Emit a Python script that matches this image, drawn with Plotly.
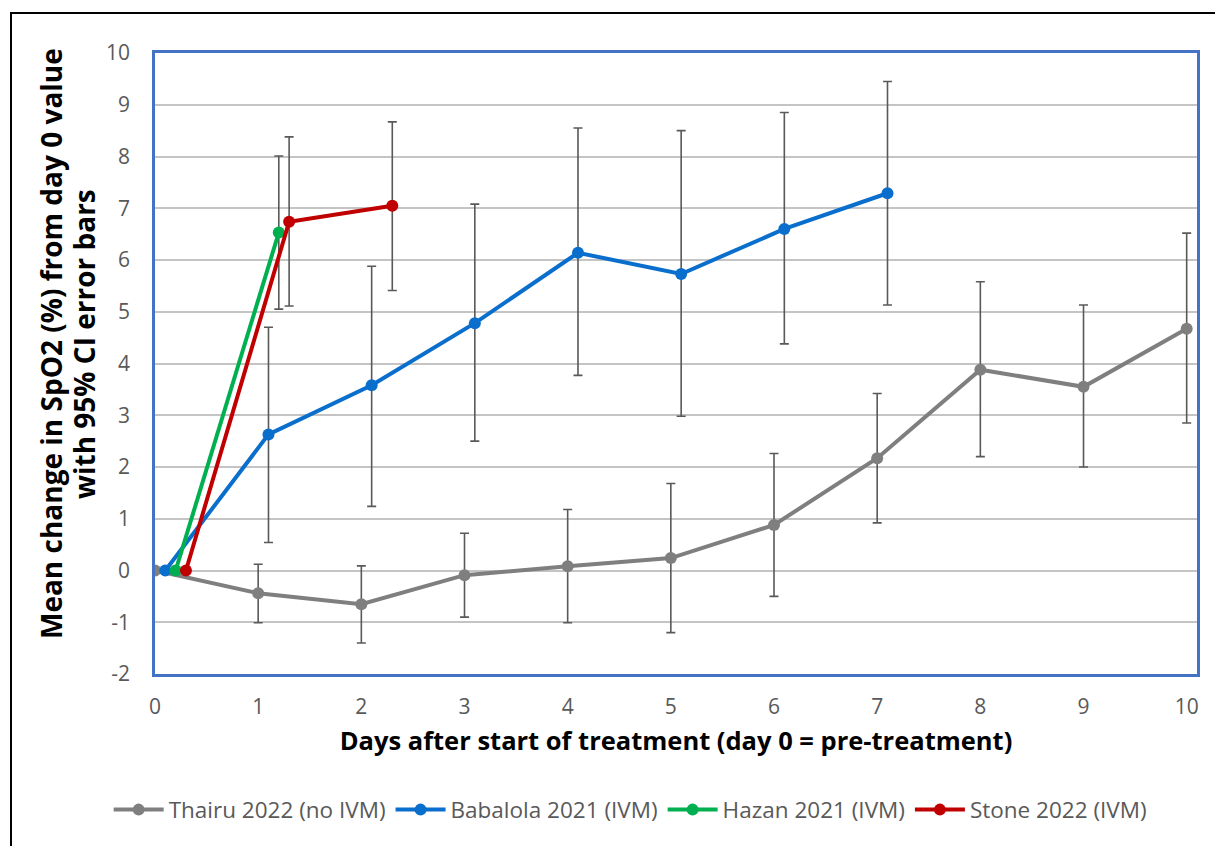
import plotly.graph_objects as go

# ---- data ----
thairu_days = [0, 1, 2, 3, 4, 5, 6, 7, 8, 9, 10]
thairu_mean = [0, -0.44, -0.65, -0.09, 0.08, 0.24, 0.88, 2.17, 3.88, 3.55, 4.67]
thairu_hi = [0, 0.12, 0.09, 0.72, 1.18, 1.68, 2.26, 3.42, 5.58, 5.13, 6.52]
thairu_lo = [0, -1.01, -1.40, -0.90, -1.01, -1.20, -0.50, 0.92, 2.20, 2.00, 2.85]

babalola_days = [0, 1, 2, 3, 4, 5, 6, 7]
babalola_mean = [0, 2.63, 3.58, 4.78, 6.14, 5.73, 6.60, 7.29]
babalola_hi = [0, 4.70, 5.88, 7.08, 8.55, 8.50, 8.85, 9.45]
babalola_lo = [0, 0.54, 1.24, 2.50, 3.77, 2.98, 4.38, 5.13]

hazan_days = [0, 1]
hazan_mean = [0, 6.53]
hazan_hi = [0, 8.01]
hazan_lo = [0, 5.05]

stone_days = [0, 1, 2]
stone_mean = [0, 6.74, 7.05]
stone_hi = [0, 8.38, 8.67]
stone_lo = [0, 5.11, 5.41]

series_names = ["Thairu 2022 (no IVM)", "Babalola 2021 (IVM)", "Hazan 2021 (IVM)", "Stone 2022 (IVM)"]
x_ticks = [0, 1, 2, 3, 4, 5, 6, 7, 8, 9, 10]
y_ticks = [-2, -1, 0, 1, 2, 3, 4, 5, 6, 7, 8, 9, 10]
x_title = "Days after start of treatment (day 0 = pre-treatment)"
y_title_lines = ["Mean change in SpO2 (%) from day 0 value", "with 95% CI error bars"]

# ---- style ----
colors = ["#7F7F7F", "#0A6ECC", "#00B050", "#C00000"]
offsets = [0.0, 0.1, 0.2, 0.3]   # small horizontal offsets (days) used in the original to separate series
FONT = "Open Sans"
TICK_COL = "#595959"

series = [
    (thairu_days, thairu_mean, thairu_hi, thairu_lo),
    (babalola_days, babalola_mean, babalola_hi, babalola_lo),
    (hazan_days, hazan_mean, hazan_hi, hazan_lo),
    (stone_days, stone_mean, stone_hi, stone_lo),
]

fig = go.Figure()
for (days, mean, hi, lo), name, col, off in zip(series, series_names, colors, offsets):
    x = [d + off for d in days]
    plus = [h - m for h, m in zip(hi, mean)]
    minus = [m - l for m, l in zip(mean, lo)]
    fig.add_trace(go.Scatter(
        x=x, y=mean, name=name, mode="lines+markers",
        line=dict(color=col, width=4),
        marker=dict(color=col, size=12),
        error_y=dict(type="data", symmetric=False, array=plus, arrayminus=minus,
                     color="#595959", thickness=1.6, width=4.5),
    ))

title_font = dict(family=FONT, size=28, color="black", weight="bold")
annotations = [
    dict(text=y_title_lines[0], xref="paper", yref="paper", x=-0.0998, y=0.5314,
         xanchor="center", yanchor="middle", textangle=-90, showarrow=False, font=title_font),
    dict(text=y_title_lines[1], xref="paper", yref="paper", x=-0.0681, y=0.5314,
         xanchor="center", yanchor="middle", textangle=-90, showarrow=False, font=title_font),
]

fig.update_layout(
    width=1223, height=846,
    margin=dict(l=147, r=34, t=45, b=180),
    paper_bgcolor="white", plot_bgcolor="white",
    font=dict(family=FONT, color=TICK_COL),
    showlegend=True,
    legend=dict(orientation="h", x=0.456, xanchor="center", y=-0.219, yanchor="middle",
                font=dict(family=FONT, size=22.5, color=TICK_COL), itemwidth=50,
                traceorder="normal"),
    annotations=annotations,
    shapes=[dict(type="rect", xref="paper", yref="paper",
                 x0=-0.1382, x1=1.2, y0=-0.5, y1=1.0644,
                 line=dict(color="black", width=2), fillcolor="rgba(0,0,0,0)", layer="below")],
)

fig.update_xaxes(
    range=[0, 10.1], tickvals=x_ticks, ticktext=[str(v) for v in x_ticks],
    showgrid=False, zeroline=False,
    showline=True, mirror=True, linecolor="#4472C4", linewidth=2.5,
    tickfont=dict(family=FONT, size=21, color=TICK_COL), ticks="", ticklabelstandoff=12,
    title=dict(text=x_title,
               font=dict(family=FONT, size=25.5, color="black", weight="bold"), standoff=14),
)
fig.update_yaxes(
    range=[-2, 10], tickvals=y_ticks, ticktext=[str(v) for v in y_ticks],
    showgrid=True, gridcolor="#C4C4C4", gridwidth=2, zeroline=False,
    showline=True, mirror=True, linecolor="#4472C4", linewidth=2.5,
    tickfont=dict(family=FONT, size=21, color=TICK_COL), ticks="", ticklabelstandoff=18,
)

fig.write_html("out.html")
